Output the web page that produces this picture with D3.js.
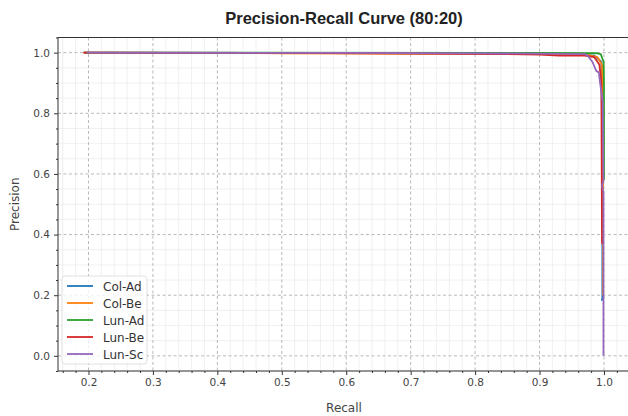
<!DOCTYPE html>
<html>
<head>
<meta charset="utf-8">
<script src="https://cdn.jsdelivr.net/npm/d3@7.9.0/dist/d3.min.js"></script>
<style>
  body { margin: 0; background: #fff; }
  svg { display: block; }
  .tick-label { font-family: "DejaVu Sans", sans-serif; font-size: 10.5px; fill: #444; }
  .axis-label { font-family: "DejaVu Sans", sans-serif; font-size: 12px; fill: #444; }
  .title { font-family: "Liberation Sans", Arial, sans-serif; font-size: 16.5px; font-weight: bold; fill: #222; }
  .legend-text { font-family: "DejaVu Sans", sans-serif; font-size: 12px; fill: #333; }
</style>
</head>
<body>
<svg id="chart" width="628" height="416"></svg>
<script>
// series names, in legend order
const seriesNames = ["Col-Ad", "Col-Be", "Lun-Ad", "Lun-Be", "Lun-Sc"];
const seriesColors = ["#1f77b4", "#ff7f0e", "#2ca02c", "#d62728", "#9467bd"];

// [recall, precision] points
const colAd = [[0.193, 1.0], [0.6, 0.999], [0.85, 0.997], [0.95, 0.995], [0.985, 0.99], [0.996, 0.97],
  [0.9975, 0.6], [0.9975, 0.36], [0.9975, 0.185], [0.9955, 0.185]];
const colBe = [[0.193, 1.0], [0.5, 0.998], [0.9, 0.995], [0.97, 0.994], [0.99, 0.985], [0.997, 0.96],
  [0.9985, 0.8], [0.9985, 0.2]];
const lunAd = [[0.193, 1.0], [0.9, 0.999], [0.99, 0.998], [0.995, 0.995], [0.9995, 0.97], [1.0, 0.9], [1.0, 0.58]];
const lunBe = [[0.192, 1.0], [0.5, 0.999], [0.8, 0.996], [0.9, 0.994], [0.93, 0.99], [0.97, 0.99],
  [0.985, 0.985], [0.993, 0.96], [0.996, 0.9], [0.997, 0.37]];
const lunSc = [[0.197, 1.0], [0.6, 0.999], [0.9, 0.997], [0.97, 0.995], [0.975, 0.99], [0.982, 0.97],
  [0.988, 0.94], [0.992, 0.935], [0.994, 0.9], [0.998, 0.84], [0.9992, 0.58], [0.997, 0.56], [0.9992, 0.54], [0.9992, 0.0]];
const seriesData = [colAd, colBe, lunAd, lunBe, lunSc];

const xTicks = [0.2, 0.3, 0.4, 0.5, 0.6, 0.7, 0.8, 0.9, 1.0];
const yTicks = [0.0, 0.2, 0.4, 0.6, 0.8, 1.0];

const svg = d3.select("#chart");
const plot = { left: 58, right: 630, top: 37.5, bottom: 371 };

const x = d3.scaleLinear().domain([0.1527, 1.0404]).range([plot.left, plot.right]);
const y = d3.scaleLinear().domain([-0.05, 1.05]).range([plot.bottom, plot.top]);

const xMinor = d3.range(0.16, 1.041, 0.02).filter((v) => !xTicks.some((t) => Math.abs(t - v) < 1e-6));
const yMinor = d3.range(-0.05, 1.051, 0.05).filter((v) => !yTicks.some((t) => Math.abs(t - v) < 1e-6));

const grid = svg.append("g");

// minor grid
grid.selectAll(".gx-minor").data(xMinor).join("line")
  .attr("x1", (d) => x(d)).attr("x2", (d) => x(d))
  .attr("y1", plot.top).attr("y2", plot.bottom)
  .attr("stroke", "#ececec").attr("stroke-width", 0.8);
grid.selectAll(".gy-minor").data(yMinor).join("line")
  .attr("y1", (d) => y(d)).attr("y2", (d) => y(d))
  .attr("x1", plot.left).attr("x2", plot.right)
  .attr("stroke", "#ececec").attr("stroke-width", 0.8);

// major grid
grid.selectAll(".gx").data(xTicks).join("line")
  .attr("x1", (d) => x(d)).attr("x2", (d) => x(d))
  .attr("y1", plot.top).attr("y2", plot.bottom)
  .attr("stroke", "#b0b0b0").attr("stroke-width", 0.9).attr("stroke-dasharray", "3,2.5");
grid.selectAll(".gy").data(yTicks).join("line")
  .attr("y1", (d) => y(d)).attr("y2", (d) => y(d))
  .attr("x1", plot.left).attr("x2", plot.right)
  .attr("stroke", "#b0b0b0").attr("stroke-width", 0.9).attr("stroke-dasharray", "3,2.5");

// curves
const line = d3.line().x((d) => x(d[0])).y((d) => y(d[1]));
svg.append("g")
  .selectAll("path")
  .data(seriesData)
  .join("path")
  .attr("d", line)
  .attr("fill", "none")
  .attr("stroke", (d, i) => seriesColors[i])
  .attr("stroke-width", 1.8)
  .attr("stroke-linejoin", "round");

// axes
const xAxis = d3.axisBottom(x).tickValues(xTicks).tickFormat(d3.format(".1f")).tickSize(4).tickPadding(4);
const yAxis = d3.axisLeft(y).tickValues(yTicks).tickFormat(d3.format(".1f")).tickSize(4).tickPadding(4);
const xAxisMinor = d3.axisBottom(x).tickValues(xMinor).tickFormat("").tickSize(2);
const yAxisMinor = d3.axisLeft(y).tickValues(yMinor).tickFormat("").tickSize(2);

function styleAxis(g) {
  g.select(".domain").remove();
  g.selectAll(".tick line").attr("stroke", "#333");
  g.selectAll(".tick text").attr("class", "tick-label").attr("font-family", null).attr("font-size", null);
}

svg.append("g").attr("transform", `translate(0,${plot.bottom})`).call(xAxisMinor).call(styleAxis);
svg.append("g").attr("transform", `translate(${plot.left},0)`).call(yAxisMinor).call(styleAxis);
svg.append("g").attr("transform", `translate(0,${plot.bottom})`).call(xAxis).call(styleAxis);
svg.append("g").attr("transform", `translate(${plot.left},0)`).call(yAxis).call(styleAxis);

// spines
svg.append("rect")
  .attr("x", plot.left).attr("y", plot.top)
  .attr("width", plot.right - plot.left).attr("height", plot.bottom - plot.top)
  .attr("fill", "none").attr("stroke", "#333").attr("stroke-width", 1);

// labels
svg.append("text").attr("class", "title")
  .attr("x", (plot.left + plot.right) / 2).attr("y", 24).attr("text-anchor", "middle")
  .text("Precision-Recall Curve (80:20)");
svg.append("text").attr("class", "axis-label")
  .attr("x", (plot.left + plot.right) / 2).attr("y", 412).attr("text-anchor", "middle")
  .text("Recall");
svg.append("text").attr("class", "axis-label")
  .attr("transform", `translate(19,${(plot.top + plot.bottom) / 2}) rotate(-90)`)
  .attr("text-anchor", "middle")
  .text("Precision");

// legend
const legend = svg.append("g").attr("transform", "translate(62,276)");
legend.append("rect")
  .attr("width", 85).attr("height", 88).attr("rx", 3)
  .attr("fill", "#fff").attr("fill-opacity", 0.8)
  .attr("stroke", "#d8d8d8").attr("stroke-width", 0.8);

seriesNames.forEach((name, i) => {
  const row = legend.append("g").attr("transform", `translate(0,${10 + i * 17})`);
  row.append("line")
    .attr("x1", 5).attr("x2", 31)
    .attr("stroke", seriesColors[i]).attr("stroke-width", 1.8);
  row.append("text").attr("class", "legend-text")
    .attr("x", 41).attr("y", 4.5)
    .text(name);
});
</script>
</body>
</html>
